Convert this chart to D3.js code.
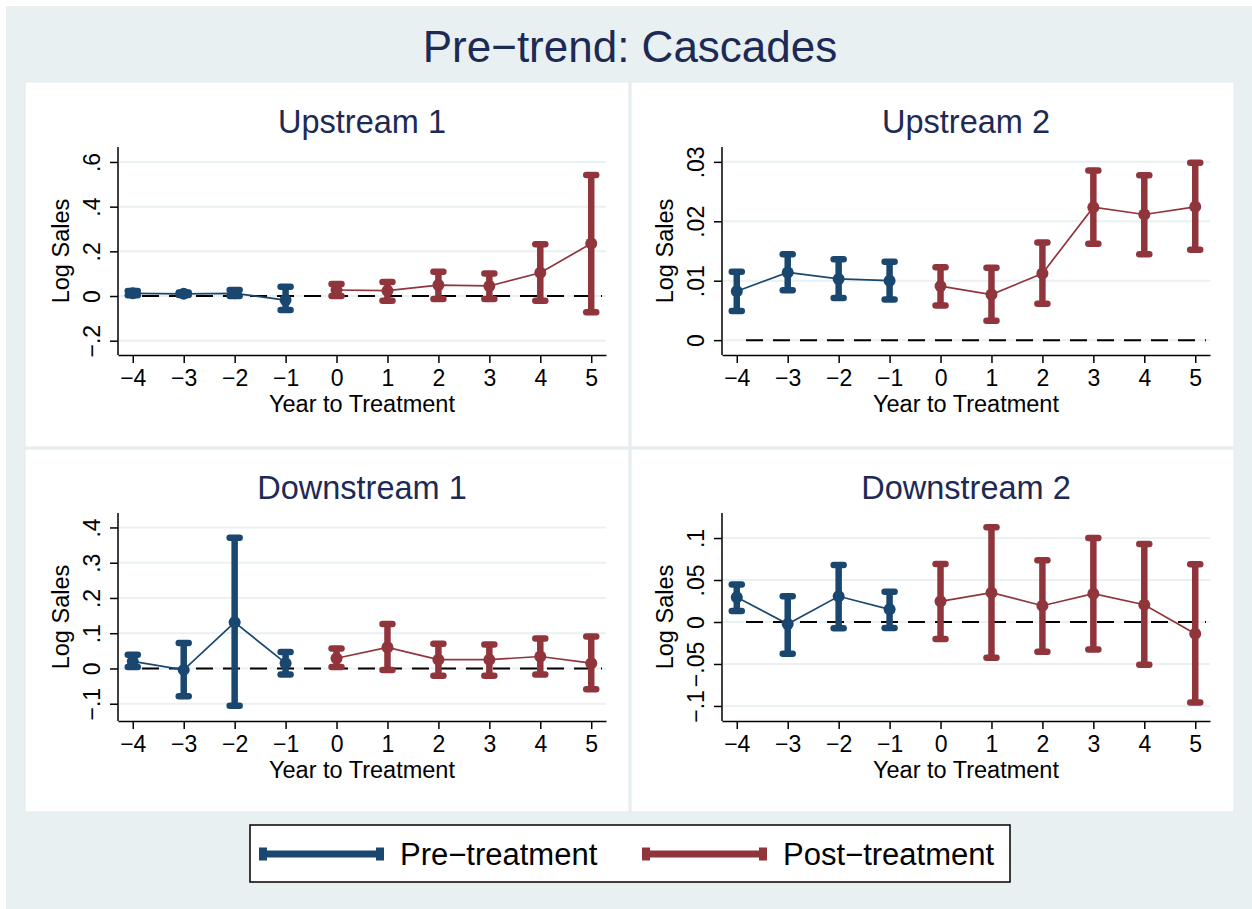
<!DOCTYPE html>
<html>
<head>
<meta charset="utf-8">
<script src="https://cdn.jsdelivr.net/npm/d3@7"></script>
<style>
  html, body { margin: 0; padding: 0; background: #ffffff; }
  svg { display: block; }
  text { font-family: "Liberation Sans", Arial, Helvetica, sans-serif; }
</style>
</head>
<body>
<svg id="chart" width="1252" height="909"></svg>
<script>
// ---------------- DATA ----------------
const years = [-4, -3, -2, -1, 0, 1, 2, 3, 4, 5];
const xTickLabels = ["\u22124", "\u22123", "\u22122", "\u22121", "0", "1", "2", "3", "4", "5"];
const mainTitle = "Pre\u2212trend: Cascades";
const panelTitles = ["Upstream 1", "Upstream 2", "Downstream 1", "Downstream 2"];
const yTitle = "Log Sales";
const xTitle = "Year to Treatment";
const seriesNames = ["Pre\u2212treatment", "Post\u2212treatment"];

// Upstream 1
const up1Est = [0.012, 0.010, 0.012, -0.018, 0.027, 0.024, 0.049, 0.045, 0.104, 0.235];
const up1Lo  = [0.003, 0.004, 0.000, -0.063, 0.000, -0.021, -0.013, -0.013, -0.021, -0.073];
const up1Hi  = [0.022, 0.016, 0.027, 0.042, 0.054, 0.063, 0.109, 0.101, 0.232, 0.542];
const up1Ticks = [-0.2, 0, 0.2, 0.4, 0.6];
const up1TickLabels = ["\u2212.2", "0", ".2", ".4", ".6"];

// Upstream 2
const up2Est = [0.00824, 0.0114, 0.0103, 0.0100, 0.00909, 0.00768, 0.01122, 0.02238, 0.02114, 0.02243];
const up2Lo  = [0.0049, 0.0084, 0.0071, 0.00684, 0.00583, 0.00325, 0.00611, 0.01621, 0.01447, 0.0152];
const up2Hi  = [0.0115, 0.01447, 0.01363, 0.01318, 0.01228, 0.01217, 0.01643, 0.02855, 0.02776, 0.02984];
const up2Ticks = [0, 0.01, 0.02, 0.03];
const up2TickLabels = ["0", ".01", ".02", ".03"];

// Downstream 1
const dn1Est = [0.020, -0.004, 0.131, 0.015, 0.029, 0.060, 0.025, 0.025, 0.034, 0.015];
const dn1Lo  = [0.004, -0.079, -0.106, -0.017, 0.004, -0.004, -0.021, -0.021, -0.017, -0.059];
const dn1Hi  = [0.039, 0.072, 0.371, 0.047, 0.057, 0.126, 0.070, 0.068, 0.085, 0.091];
const dn1Ticks = [-0.1, 0, 0.1, 0.2, 0.3, 0.4];
const dn1TickLabels = ["\u2212.1", "0", ".1", ".2", ".3", ".4"];

// Downstream 2
const dn2Est = [0.0294, -0.0024, 0.0306, 0.0151, 0.0246, 0.0349, 0.0194, 0.0337, 0.0206, -0.0139];
const dn2Lo  = [0.0131, -0.0377, -0.0075, -0.0071, -0.0202, -0.0425, -0.0353, -0.0329, -0.0508, -0.0960];
const dn2Hi  = [0.0448, 0.0306, 0.0679, 0.0361, 0.0690, 0.1127, 0.0734, 0.1000, 0.0929, 0.0687];
const dn2Ticks = [-0.1, -0.05, 0, 0.05, 0.1];
const dn2TickLabels = ["\u2212.1", "\u2212.05", "0", ".05", ".1"];

// ---------------- STYLE / LAYOUT ----------------
const colPre = "#1a476f";
const colPost = "#90353b";
const titleColor = "#1c2a55";
const bgColor = "#e9f0f2";
const gridColor = "#e9f1f3";

const panels = [
  { title: panelTitles[0], est: up1Est, lo: up1Lo, hi: up1Hi, ticks: up1Ticks, labels: up1TickLabels,
    ydom: [-0.264, 0.667], box: [25, 82, 604, 365], ax: { x0: 118, x1: 606, yTop: 147, yBot: 355 } },
  { title: panelTitles[1], est: up2Est, lo: up2Lo, hi: up2Hi, ticks: up2Ticks, labels: up2TickLabels,
    ydom: [-0.0025, 0.0325], box: [631, 82, 603, 365], ax: { x0: 722, x1: 1210, yTop: 147, yBot: 355 } },
  { title: panelTitles[2], est: dn1Est, lo: dn1Lo, hi: dn1Hi, ticks: dn1Ticks, labels: dn1TickLabels,
    ydom: [-0.149, 0.441], box: [25, 449, 604, 363], ax: { x0: 118, x1: 606, yTop: 513, yBot: 721 } },
  { title: panelTitles[3], est: dn2Est, lo: dn2Lo, hi: dn2Hi, ticks: dn2Ticks, labels: dn2TickLabels,
    ydom: [-0.1179, 0.1298], box: [631, 449, 603, 363], ax: { x0: 722, x1: 1210, yTop: 513, yBot: 721 } }
];

const svg = d3.select("#chart");

// background
svg.append("rect").attr("x", 6).attr("y", 6).attr("width", 1246).attr("height", 903).attr("fill", bgColor);

// main title
svg.append("text").attr("x", 630).attr("y", 62).attr("text-anchor", "middle")
  .attr("font-size", 44).attr("fill", titleColor).text(mainTitle);

panels.forEach(p => {
  const g = svg.append("g");
  g.append("rect").attr("x", p.box[0]).attr("y", p.box[1]).attr("width", p.box[2]).attr("height", p.box[3])
    .attr("fill", "#ffffff").attr("stroke", "#e2eaee").attr("stroke-width", 1);

  const x = d3.scaleLinear().domain([-4.29, 5.29]).range([p.ax.x0, p.ax.x1]);
  const y = d3.scaleLinear().domain(p.ydom).range([p.ax.yBot, p.ax.yTop]);

  // gridlines
  g.append("g").selectAll("line").data(p.ticks).join("line")
    .attr("x1", p.ax.x0 + 1).attr("x2", p.ax.x1)
    .attr("y1", d => y(d)).attr("y2", d => y(d))
    .attr("stroke", gridColor).attr("stroke-width", 2);

  // zero dashed line
  g.append("line").attr("x1", p.ax.x0 + 24).attr("x2", p.ax.x1 - 4)
    .attr("y1", y(0)).attr("y2", y(0))
    .attr("stroke", "#000").attr("stroke-width", 2).attr("stroke-dasharray", "17,10");

  // axes
  const xAxis = d3.axisBottom(x).tickValues(years).tickFormat((d, i) => xTickLabels[i]).tickSize(8).tickSizeOuter(0);
  const gx = g.append("g").attr("transform", `translate(0,${p.ax.yBot})`).call(xAxis);
  gx.select(".domain").attr("stroke", "#000").attr("stroke-width", 1.5);
  gx.selectAll(".tick line").attr("stroke", "#000").attr("stroke-width", 1.5);
  gx.selectAll(".tick text").attr("font-size", 23).attr("fill", "#000")
    .attr("font-family", "Liberation Sans, Arial, sans-serif").attr("y", 30.5).attr("dy", 0);

  const yAxis = d3.axisLeft(y).tickValues(p.ticks).tickFormat((d, i) => p.labels[i]).tickSize(8).tickSizeOuter(0);
  const gy = g.append("g").attr("transform", `translate(${p.ax.x0},0)`).call(yAxis);
  gy.select(".domain").attr("stroke", "#000").attr("stroke-width", 1.5)
    .attr("d", `M0,${p.ax.yTop}V${p.ax.yBot}`);
  gy.selectAll(".tick line").attr("stroke", "#000").attr("stroke-width", 1.5);
  gy.selectAll(".tick text").attr("font-size", 23).attr("fill", "#000")
    .attr("font-family", "Liberation Sans, Arial, sans-serif")
    .attr("transform", "rotate(-90)").attr("text-anchor", "middle").attr("x", 0).attr("y", -18.5).attr("dy", 0);

  // axis titles
  g.append("text").attr("x", (p.ax.x0 + p.ax.x1) / 2).attr("y", p.ax.yBot + 57)
    .attr("text-anchor", "middle").attr("font-size", 23.5).attr("fill", "#000").text(xTitle);
  g.append("text").attr("transform", `translate(${p.ax.x0 - 49},${(p.ax.yTop + p.ax.yBot) / 2}) rotate(-90)`)
    .attr("text-anchor", "middle").attr("font-size", 23.5).attr("fill", "#000").text(yTitle);

  // panel title
  g.append("text").attr("x", (p.ax.x0 + p.ax.x1) / 2).attr("y", p.ax.yTop - 14)
    .attr("text-anchor", "middle").attr("font-size", 32.5).attr("fill", titleColor).text(p.title);

  // data
  const rows = years.map((yr, i) => ({ yr, est: p.est[i], lo: p.lo[i], hi: p.hi[i] }));
  const groups = [
    { data: rows.filter(r => r.yr < 0), color: colPre },
    { data: rows.filter(r => r.yr >= 0), color: colPost }
  ];
  const line = d3.line().x(d => x(d.yr)).y(d => y(d.est));
  groups.forEach(s => {
    g.append("path").datum(s.data).attr("d", line).attr("fill", "none")
      .attr("stroke", s.color).attr("stroke-width", 1.7);
    const eb = g.append("g");
    eb.selectAll("line.bar").data(s.data).join("line").attr("class", "bar")
      .attr("x1", d => x(d.yr)).attr("x2", d => x(d.yr))
      .attr("y1", d => y(d.lo)).attr("y2", d => y(d.hi))
      .attr("stroke", s.color).attr("stroke-width", 6.5);
    ["lo", "hi"].forEach(k => {
      eb.selectAll("line.cap" + k).data(s.data).join("line").attr("class", "cap" + k)
        .attr("x1", d => x(d.yr) - 5).attr("x2", d => x(d.yr) + 5)
        .attr("y1", d => y(d[k])).attr("y2", d => y(d[k]))
        .attr("stroke", s.color).attr("stroke-width", 6.5).attr("stroke-linecap", "round");
    });
    eb.selectAll("circle").data(s.data).join("circle")
      .attr("cx", d => x(d.yr)).attr("cy", d => y(d.est)).attr("r", 6)
      .attr("fill", s.color);
  });
});

// legend
const lg = svg.append("g");
lg.append("rect").attr("x", 250).attr("y", 825).attr("width", 760).attr("height", 57)
  .attr("fill", "#fff").attr("stroke", "#000").attr("stroke-width", 1.5);
const legendItems = [
  { name: seriesNames[0], color: colPre, x0: 259, x1: 384, tx: 400 },
  { name: seriesNames[1], color: colPost, x0: 642, x1: 767, tx: 783 }
];
legendItems.forEach(it => {
  lg.append("line").attr("x1", it.x0 + 4).attr("x2", it.x1 - 4).attr("y1", 854).attr("y2", 854)
    .attr("stroke", it.color).attr("stroke-width", 7);
  [it.x0, it.x1 - 8].forEach(cx => {
    lg.append("rect").attr("x", cx).attr("y", 847.5).attr("width", 8).attr("height", 13).attr("fill", it.color);
  });
  lg.append("text").attr("x", it.tx).attr("y", 865).attr("font-size", 31).attr("fill", "#000").text(it.name);
});
</script>
</body>
</html>
